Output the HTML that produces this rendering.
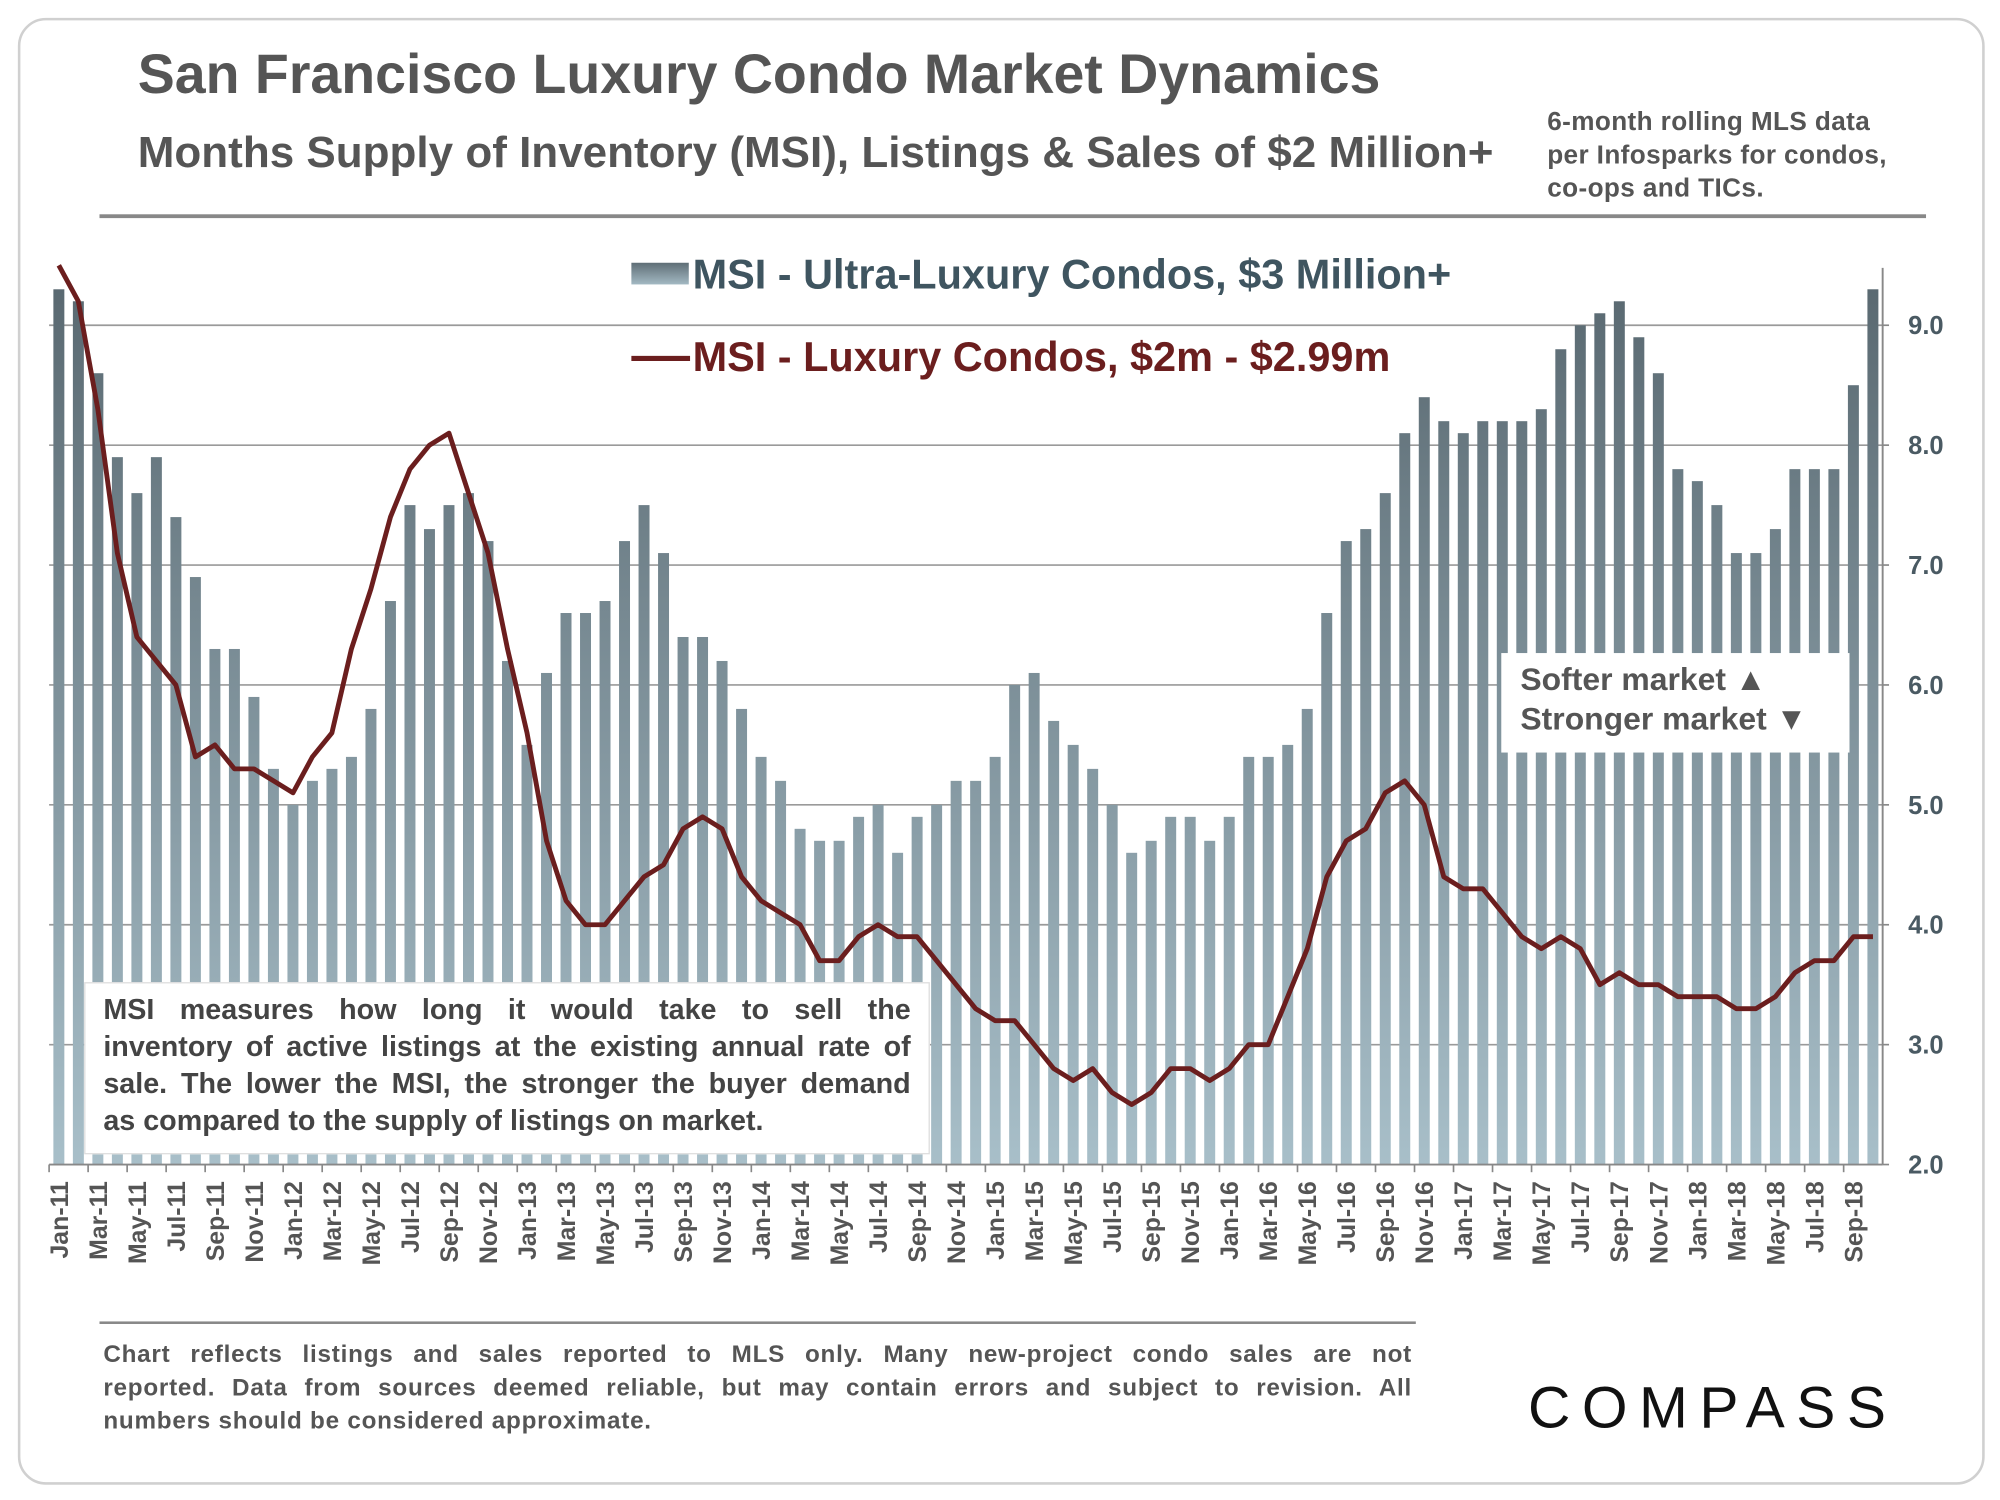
<!DOCTYPE html>
<html><head><meta charset="utf-8">
<style>
html,body{margin:0;padding:0;background:#fff;}
body{width:2000px;height:1500px;overflow:hidden;}
#wrap{position:absolute;left:0;top:0;width:1568px;height:1176px;transform:scale(1.27551);transform-origin:0 0;font-family:"Liberation Sans",Arial,sans-serif;font-weight:bold;}
.abs{position:absolute;}
.jl{display:block;text-align:justify;text-align-last:justify;white-space:nowrap;}
.ll{display:block;text-align:left;white-space:nowrap;}
</style></head>
<body>
<div id="wrap">
<div class="abs" style="left:14px;top:14px;width:1538px;height:1146px;border:2px solid #d0d0d0;border-radius:22px;"></div>
<div class="abs" style="left:108px;top:35px;font-size:43.5px;color:#555;white-space:nowrap;">San Francisco Luxury Condo Market Dynamics</div>
<div class="abs" style="left:108px;top:101px;font-size:34.5px;color:#555;white-space:nowrap;">Months Supply of Inventory (MSI), Listings &amp; Sales of $2 Million+</div>
<div class="abs" style="left:1213px;top:83px;font-size:20.5px;line-height:26px;color:#555;white-space:nowrap;letter-spacing:0.3px;">6-month rolling MLS data<br>per Infosparks for condos,<br>co-ops and TICs.</div>
<div class="abs" style="left:78px;top:168px;width:1432px;height:3px;background:#888;"></div>

<svg class="abs" style="left:0;top:0" width="1568" height="1176" viewBox="0 0 1568 1176">
<defs>
<linearGradient id="bg" gradientUnits="userSpaceOnUse" x1="0" y1="210" x2="0" y2="913">
<stop offset="0" stop-color="#58676f"/><stop offset="1" stop-color="#a8bfc9"/>
</linearGradient>
<linearGradient id="lg" x1="0" y1="0" x2="0" y2="1">
<stop offset="0" stop-color="#5f6e76"/><stop offset="1" stop-color="#a3b9c3"/>
</linearGradient>
</defs>
<g id="grid"></g>
<g id="bars"></g>
<g id="line"></g>
<g id="axes"></g>
<g id="legend">
<rect x="495" y="206" width="45" height="17" fill="url(#lg)"/>
<text x="543" y="226" font-size="32.5" fill="#3f5560">MSI - Ultra-Luxury Condos, $3 Million+</text>
<line x1="495" y1="281" x2="541" y2="281" stroke="#6b1e1e" stroke-width="4"/>
<text x="543" y="291" font-size="32.5" fill="#6b1e1e">MSI - Luxury Condos, $2m - $2.99m</text>
</g>
</svg>

<div class="abs" style="left:66px;top:770px;width:633px;height:119px;padding:6px 14px 8px 14px;background:#fff;border:1px solid #ddd;font-size:22.5px;line-height:29px;color:#444;">
<span class="jl">MSI measures how long it would take to sell the</span>
<span class="jl">inventory of active listings at the existing annual rate of</span>
<span class="jl">sale. The lower the MSI, the stronger the buyer demand</span>
<span class="ll">as compared to the supply of listings on market.</span>
</div>
<div class="abs" style="left:1177px;top:512px;width:258px;height:70px;padding:6px 0 2px 15px;background:#fff;font-size:25px;line-height:31px;color:#555;white-space:nowrap;">Softer market ▲<br>Stronger market ▼</div>

<div class="abs" style="left:78px;top:1036px;width:1032px;height:2px;background:#888;"></div>
<div class="abs" style="left:81px;top:1050px;width:1026px;font-size:19px;line-height:26px;color:#555;letter-spacing:0.6px;">
<span class="jl">Chart reflects listings and sales reported to MLS only. Many new-project condo sales are not</span>
<span class="jl">reported. Data from sources deemed reliable, but may contain errors and subject to revision. All</span>
<span class="ll">numbers should be considered approximate.</span>
</div>
<div class="abs" style="left:1198px;top:1076px;font-size:46px;letter-spacing:9px;color:#111;font-weight:normal;white-space:nowrap;">COMPASS</div>
</div>

<script>
var months = ["Jan","Feb","Mar","Apr","May","Jun","Jul","Aug","Sep","Oct","Nov","Dec"];
var yTicks = [2,3,4,5,6,7,8,9];
var ultraLuxury = [
9.3,9.2,8.6,7.9,7.6,7.9,7.4,6.9,6.3,6.3,5.9,5.3,
5.0,5.2,5.3,5.4,5.8,6.7,7.5,7.3,7.5,7.6,7.2,6.2,
5.5,6.1,6.6,6.6,6.7,7.2,7.5,7.1,6.4,6.4,6.2,5.8,
5.4,5.2,4.8,4.7,4.7,4.9,5.0,4.6,4.9,5.0,5.2,5.2,
5.4,6.0,6.1,5.7,5.5,5.3,5.0,4.6,4.7,4.9,4.9,4.7,
4.9,5.4,5.4,5.5,5.8,6.6,7.2,7.3,7.6,8.1,8.4,8.2,
8.1,8.2,8.2,8.2,8.3,8.8,9.0,9.1,9.2,8.9,8.6,7.8,
7.7,7.5,7.1,7.1,7.3,7.8,7.8,7.8,8.5,9.3];
var luxury = [
9.5,9.2,8.3,7.1,6.4,6.2,6.0,5.4,5.5,5.3,5.3,5.2,
5.1,5.4,5.6,6.3,6.8,7.4,7.8,8.0,8.1,7.6,7.1,6.3,
5.6,4.7,4.2,4.0,4.0,4.2,4.4,4.5,4.8,4.9,4.8,4.4,
4.2,4.1,4.0,3.7,3.7,3.9,4.0,3.9,3.9,3.7,3.5,3.3,
3.2,3.2,3.0,2.8,2.7,2.8,2.6,2.5,2.6,2.8,2.8,2.7,
2.8,3.0,3.0,3.4,3.8,4.4,4.7,4.8,5.1,5.2,5.0,4.4,
4.3,4.3,4.1,3.9,3.8,3.9,3.8,3.5,3.6,3.5,3.5,3.4,
3.4,3.4,3.3,3.3,3.4,3.6,3.7,3.7,3.9,3.9];
var categories = [];
for (var i=0;i<ultraLuxury.length;i++){ categories.push(months[i%12]+"-"+(11+Math.floor(i/12))); }

var NS="http://www.w3.org/2000/svg";
var X0=38.5, X1=1476, Y0=913, YMIN=2, YPER=94;
var step=(X1-X0)/categories.length;
function xc(i){ return X0 + step*(i+0.5); }
function y(v){ return Y0 - (v-YMIN)*YPER; }
function mk(tag, attrs, parent){ var e=document.createElementNS(NS,tag); for(var k in attrs) e.setAttribute(k,attrs[k]); parent.appendChild(e); return e; }

var grid=document.getElementById('grid'), axes=document.getElementById('axes');
yTicks.forEach(function(t){
  if(t>YMIN){
    var gl=mk('line',{x1:X0,x2:X1,y1:y(t),y2:y(t),stroke:'#9a9a9a','stroke-width':1.3},grid);
    
    
  }
  var tl=mk('text',{x:1496,y:y(t)+7,'font-size':20,fill:'#4a5a63','font-family':'Liberation Sans, sans-serif','font-weight':'bold'},axes);
  tl.textContent=t.toFixed(1);
  
  
  var tk=mk('line',{x1:X1,x2:X1+5,y1:y(t),y2:y(t),stroke:'#888','stroke-width':1.3},axes);
  
  
});

var bars=document.getElementById('bars');
ultraLuxury.forEach(function(v,i){
  var r=mk('rect',{x:xc(i)-4.3,y:y(v),width:8.6,height:Y0-y(v),fill:'url(#bg)'},bars);
  
  
});

var pts=luxury.map(function(v,i){ return xc(i).toFixed(1)+','+y(v).toFixed(1); }).join(' ');
var pl=mk('polyline',{points:pts,fill:'none',stroke:'#6b1e1e','stroke-width':3.8,'stroke-linejoin':'round'},document.getElementById('line'));



var xa=mk('line',{x1:X0,x2:X1,y1:Y0,y2:Y0,stroke:'#888','stroke-width':1.5},axes);


var ya=mk('line',{x1:X1,x2:X1,y1:210,y2:Y0,stroke:'#888','stroke-width':1.5},axes);



for (var i=0;i<categories.length;i+=2){
  var tx=X0+step*i;
  var t=mk('line',{x1:tx,x2:tx,y1:Y0,y2:Y0+6,stroke:'#888','stroke-width':1.3},axes);
  
  
  var lx=xc(i)+7, ly=926;
  var lb=mk('text',{x:lx,y:ly,'font-size':19.5,fill:'#555','text-anchor':'end','font-family':'Liberation Sans, sans-serif','font-weight':'bold',transform:'rotate(-90 '+lx+' '+ly+')'},axes);
  lb.textContent=categories[i];
  
  
}
</script>
</body></html>
